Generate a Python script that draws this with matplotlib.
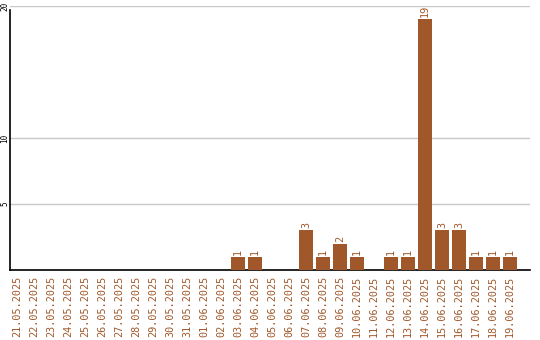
import matplotlib
matplotlib.use("Agg")
import matplotlib.pyplot as plt

dates = ["21.05.2025", "22.05.2025", "23.05.2025", "24.05.2025", "25.05.2025",
         "26.05.2025", "27.05.2025", "28.05.2025", "29.05.2025", "30.05.2025",
         "31.05.2025", "01.06.2025", "02.06.2025", "03.06.2025", "04.06.2025",
         "05.06.2025", "06.06.2025", "07.06.2025", "08.06.2025", "09.06.2025",
         "10.06.2025", "11.06.2025", "12.06.2025", "13.06.2025", "14.06.2025",
         "15.06.2025", "16.06.2025", "17.06.2025", "18.06.2025", "19.06.2025"]
counts = [0, 0, 0, 0, 0, 0, 0, 0, 0, 0, 0, 0, 0, 1, 1,
          0, 0, 3, 1, 2, 1, 0, 1, 1, 19, 3, 3, 1, 1, 1]
yticks = [5, 10, 20]

BROWN = "#A0582B"
W, H = 540, 340

fig = plt.figure(figsize=(5.4, 3.4), dpi=100)
ax = fig.add_axes([10 / W, (H - 270) / H, 520 / W, 264 / H])

x = list(range(len(dates)))
ax.bar(x, counts, width=0.82, color=BROWN, zorder=3)
for xi, v in zip(x, counts):
    if v > 0:
        ax.text(xi, v + 0.15, str(v), rotation=90, ha="center", va="bottom",
                color=BROWN, fontsize=7.3, family="DejaVu Sans Mono")

ax.set_xlim(-0.41, 30.18)
ax.set_ylim(0, 20)
ax.set_yticks(yticks)
ax.set_yticklabels([str(t) for t in yticks], rotation=90, va="center",
                   fontsize=5.5, family="DejaVu Sans Mono")
ax.grid(axis="y", color="#c8c8c8", lw=1, zorder=0)
ax.set_xticks(x)
ax.set_xticklabels(dates, rotation=90, fontsize=7.3, color=BROWN,
                   family="DejaVu Sans Mono", va="top")
ax.tick_params(axis="both", length=0)
ax.tick_params(axis="x", pad=4)
ax.tick_params(axis="y", pad=0.5)
for s in ("top", "right"):
    ax.spines[s].set_visible(False)
ax.spines["left"].set_bounds(0, 19.7)
ax.spines["left"].set_linewidth(1.2)
ax.spines["bottom"].set_linewidth(1.2)

fig.savefig("out.png", dpi=100)
